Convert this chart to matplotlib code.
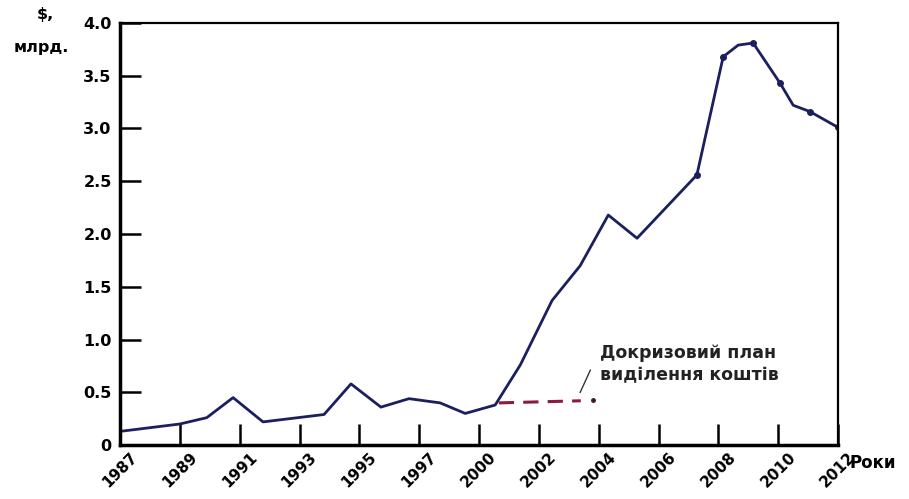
import numpy as np
import matplotlib.pyplot as plt

# x in tick units: 0 = 1987 ... 12 = 2012 (ticks equally spaced)
tick_labels = ['1987', '1989', '1991', '1993', '1995', '1997', '2000',
               '2002', '2004', '2006', '2008', '2010', '2012']
x_pos = [0, 1.0, 1.45, 1.89, 2.39, 3.41, 3.86, 4.36, 4.83, 5.35, 5.77, 6.27,
         6.69, 7.22, 7.69, 8.16, 8.64, 9.64, 10.08, 10.33, 10.58, 11.03,
         11.25, 11.53, 12.0]
funds = [0.13, 0.20, 0.26, 0.45, 0.22, 0.29, 0.58, 0.36, 0.44, 0.40, 0.30,
         0.38, 0.76, 1.37, 1.70, 2.18, 1.96, 2.56, 3.68, 3.79, 3.81, 3.43,
         3.22, 3.16, 3.01]
dot_x = [9.64, 10.08, 10.58, 11.03, 11.53, 12.0]
dot_y = [2.56, 3.68, 3.81, 3.43, 3.16, 3.01]

plan_x = [6.33, 7.7]
plan_y = [0.40, 0.42]

navy = '#1b1f5e'
plt.rcParams['font.family'] = ['DejaVu Sans']

fig = plt.figure(figsize=(9.09, 4.99), dpi=100)
ax = fig.add_axes([0.132, 0.108, 0.79, 0.846])

ax.plot(x_pos, funds, color=navy, lw=2.0, solid_joinstyle='round')
ax.plot(dot_x, dot_y, 'o', color=navy, ms=4)
ax.plot(plan_x, plan_y, color='#8b1a3c', lw=2.2, dashes=(5, 3))
ax.plot([7.9], [0.43], 'o', color='#3a1a2a', ms=2.5)

ax.set_xlim(0, 12)
ax.set_ylim(0, 4.0)
ax.set_xticks(range(13))
ax.set_xticklabels(tick_labels, rotation=45, ha='center', fontsize=11,
                   fontweight='bold')
ax.set_yticks(np.arange(0, 4.01, 0.5))
ax.set_yticklabels(['0'] + ['%.1f' % v for v in np.arange(0.5, 4.01, 0.5)],
                   fontsize=11.5, fontweight='bold')
ax.tick_params(direction='in', length=15, width=1.8, pad=6)
ax.tick_params(axis='x', pad=3)

for s in ['left', 'bottom']:
    ax.spines[s].set_linewidth(2.5)
for s in ['top', 'right']:
    ax.spines[s].set_linewidth(1.6)

ax.text(8.02, 0.58, 'Докризовий план\nвиділення коштів', fontsize=12.5,
        fontweight='bold', color='#222222', linespacing=1.3, va='bottom')
ax.plot([7.69, 7.86], [0.50, 0.71], color='#333333', lw=1)

fig.text(0.05, 0.985, '$,', fontsize=11.5, fontweight='bold', ha='center',
         va='top')
fig.text(0.045, 0.92, 'млрд.', fontsize=11.5, fontweight='bold', ha='center',
         va='top')
fig.text(0.935, 0.072, 'Роки', fontsize=12, fontweight='bold', ha='left',
         va='center')

fig.savefig('out.png', dpi=100)
